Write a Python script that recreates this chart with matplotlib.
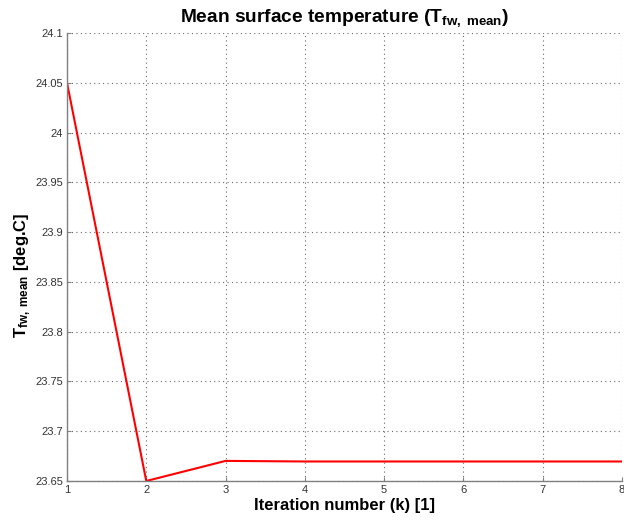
import matplotlib
matplotlib.use("Agg")
import matplotlib.pyplot as plt

iterations = [1, 2, 3, 4, 5, 6, 7, 8]
t_mean = [24.05, 23.65, 23.6702, 23.6696, 23.6696, 23.6696, 23.6696, 23.6696]
x_ticks = [1, 2, 3, 4, 5, 6, 7, 8]
y_ticks = [23.65, 23.7, 23.75, 23.8, 23.85, 23.9, 23.95, 24.0, 24.05, 24.1]
y_ticklabels = ["23.65", "23.7", "23.75", "23.8", "23.85", "23.9", "23.95", "24", "24.05", "24.1"]

plt.rcParams['font.family'] = ['Liberation Sans', 'DejaVu Sans']
plt.rcParams['mathtext.fontset'] = 'custom'
plt.rcParams['mathtext.rm'] = 'Liberation Sans'
plt.rcParams['mathtext.bf'] = 'Liberation Sans:bold'
plt.rcParams['mathtext.it'] = 'Liberation Sans:italic'

fig = plt.figure(figsize=(6.24, 5.24), dpi=100)
ax = fig.add_axes([67/624, 43/524, 555/624, 448/524])
ax.plot(iterations, t_mean, color='red', lw=1.5)
ax.set_xlim(1, 8)
ax.set_ylim(23.65, 24.1)
ax.set_xticks(x_ticks)
ax.set_yticks(y_ticks)
ax.set_yticklabels(y_ticklabels)
ax.grid(True, linestyle=(0, (1, 3)), color='#444444', lw=0.8, alpha=0.8)
for s in ['top', 'right']:
    ax.spines[s].set_visible(False)
for s in ['left', 'bottom']:
    ax.spines[s].set_color('#808080')
    ax.spines[s].set_linewidth(1.0)
ax.tick_params(direction='in', length=3, labelsize=8, colors='#808080', labelcolor='#333333', pad=3)
ax.set_xlabel('Iteration number (k) [1]', fontsize=12, fontweight='bold', labelpad=2)
ax.set_ylabel(r'$\mathbf{T_{fw,\ mean}}$ [deg.C]', fontsize=12, fontweight='bold')
ax.yaxis.set_label_coords(-0.061, 0.46)
ax.set_title(r'Mean surface temperature ($\mathbf{T_{fw,\ mean}}$)', fontsize=13.8, fontweight='bold', pad=8)
fig.savefig('out.png', dpi=100)
